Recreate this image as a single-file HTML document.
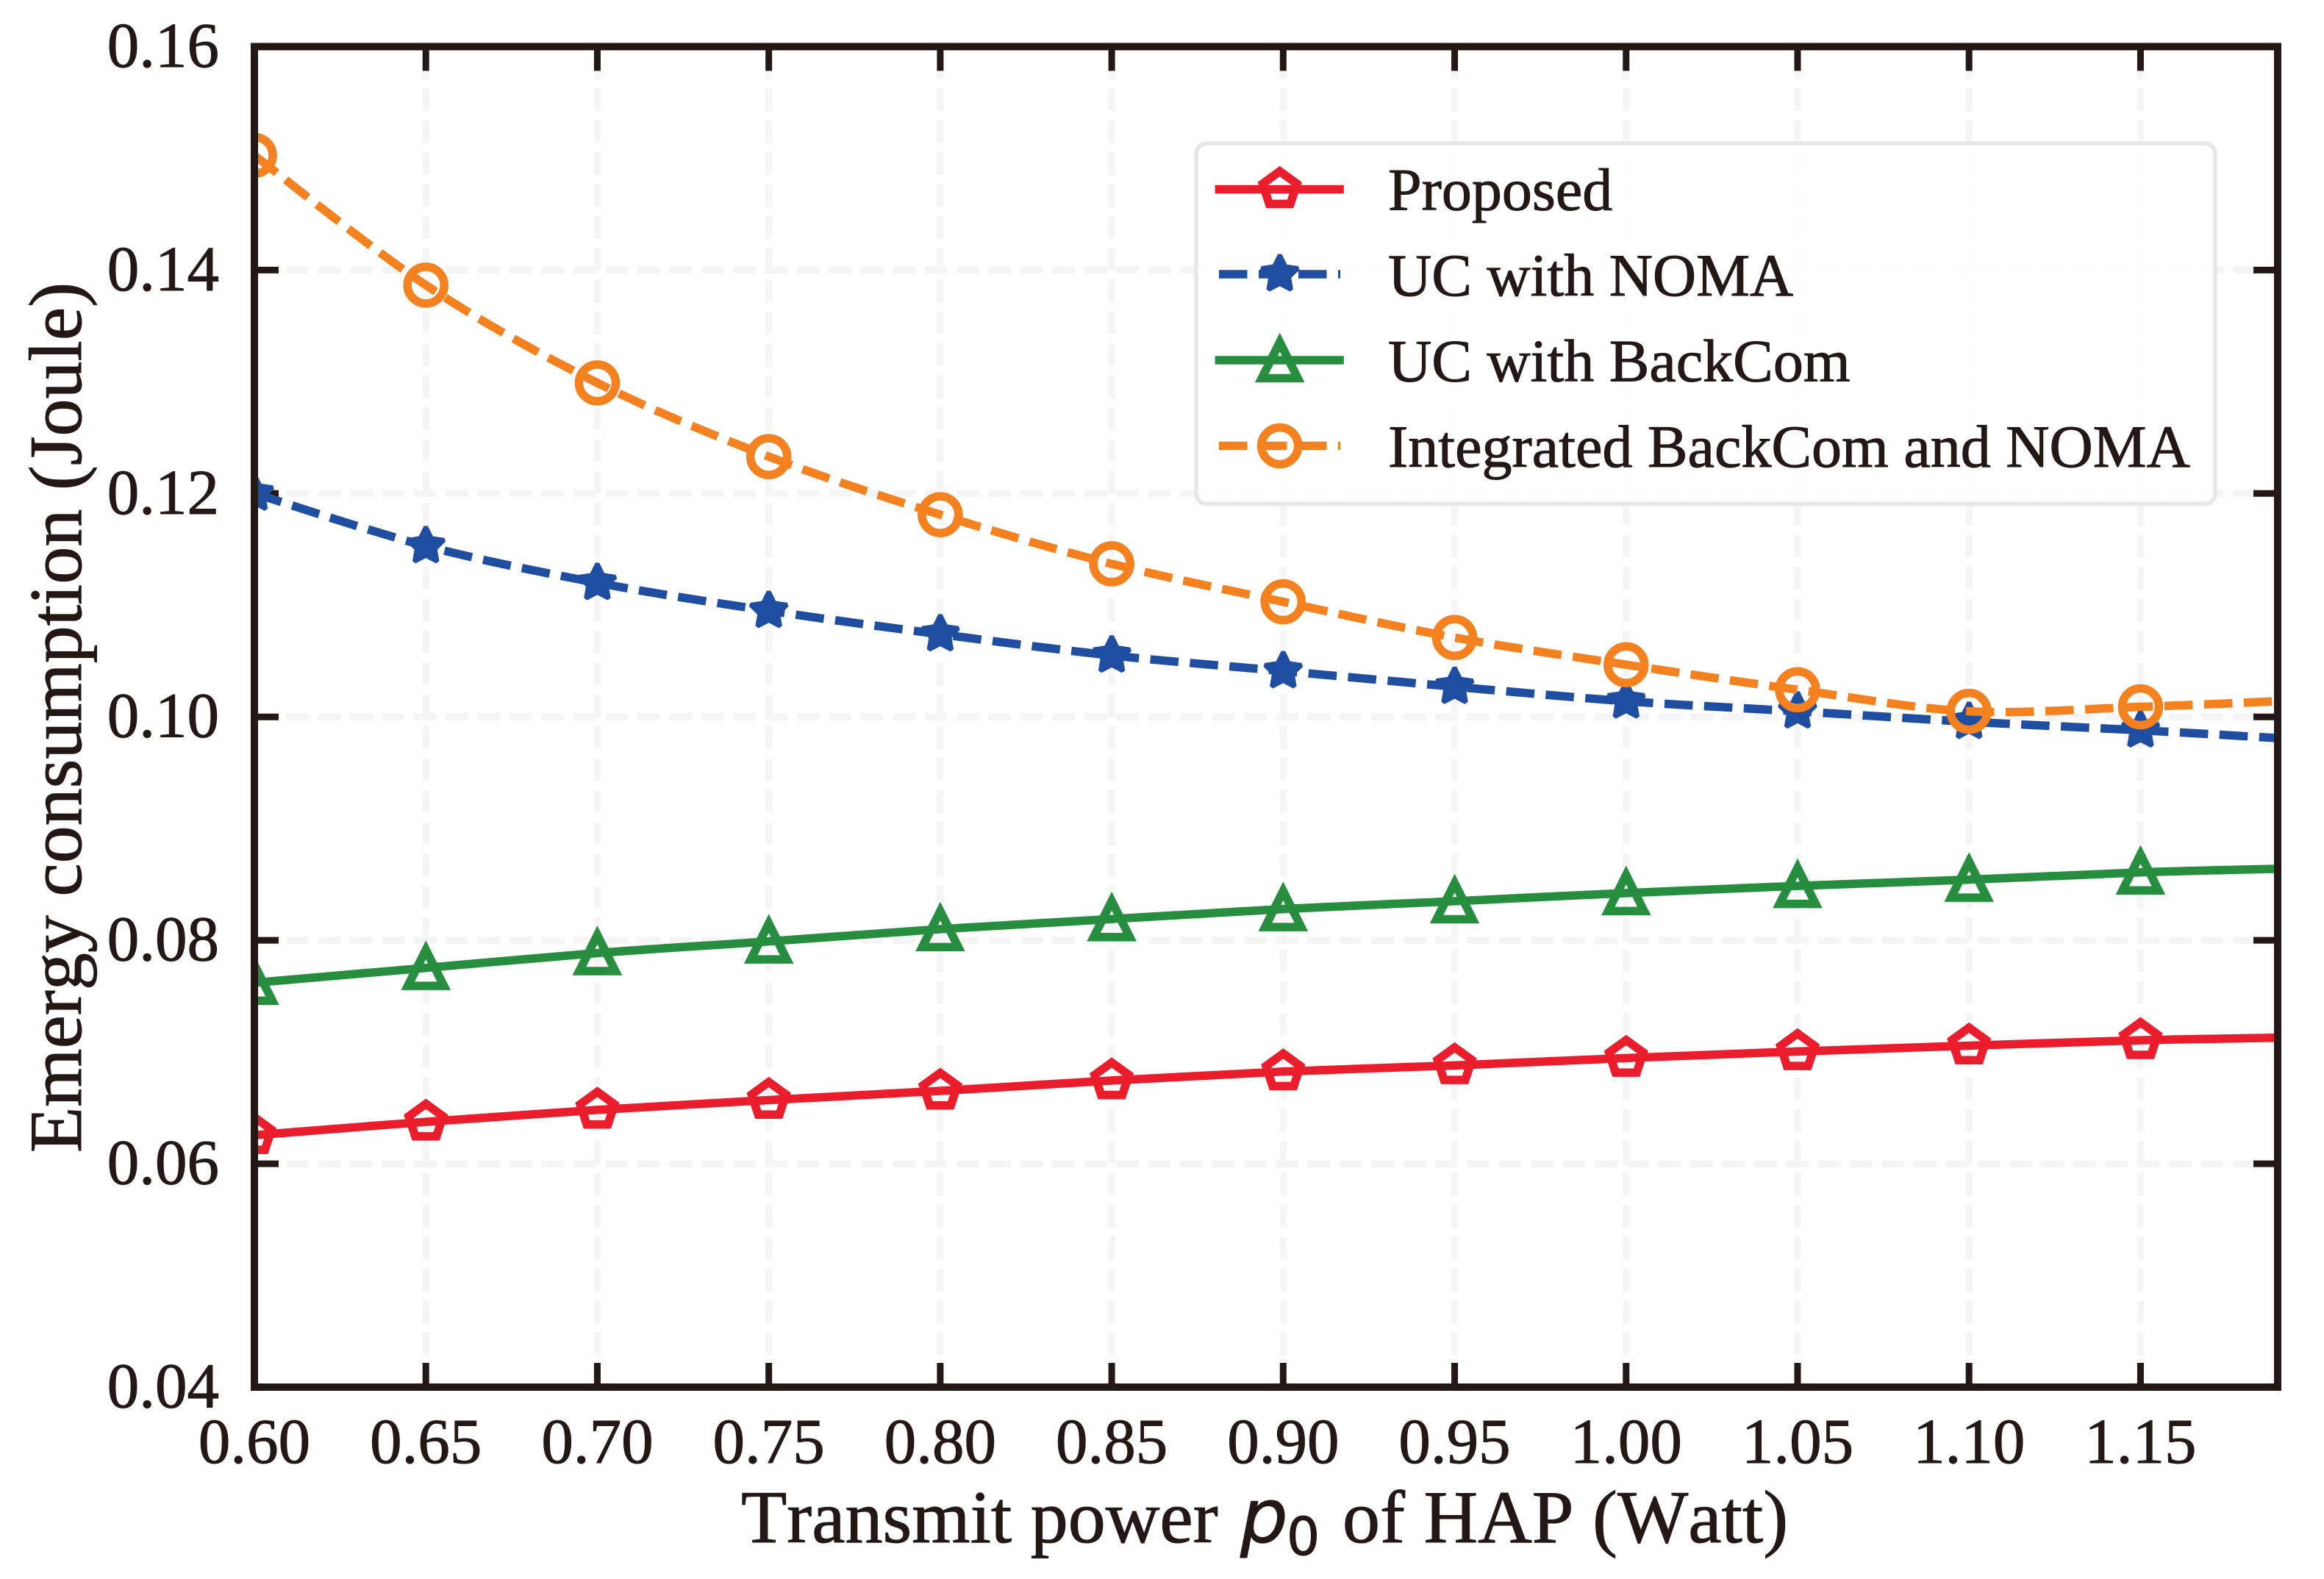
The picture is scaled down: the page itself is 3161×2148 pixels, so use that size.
<!DOCTYPE html>
<html lang="en">
<head>
<meta charset="utf-8">
<title>Energy consumption vs transmit power</title>
<style>
html,body{margin:0;padding:0;background:#fff;}
svg{display:block;}
text{font-family:"Liberation Serif","Times New Roman",serif;fill:#231815;stroke:#231815;stroke-width:1;font-kerning:none;}
</style>
</head>
<body>
<svg id="chart" xmlns="http://www.w3.org/2000/svg" width="3161" height="2148" viewBox="0 0 3161 2148">
  <defs>
    <clipPath id="plot-clip"><rect x="346" y="63.4" width="2752" height="1823.6"/></clipPath>
  </defs>
  <rect x="0" y="0" width="3161" height="2148" fill="#ffffff"/>
  <g id="grid"></g>
  <g id="ticks"></g>
  <g id="series" clip-path="url(#plot-clip)"></g>
  <g id="legend">
    <rect x="1627" y="195" width="1386" height="490.5" rx="14" ry="14" fill="#ffffff" fill-opacity="0.9" stroke="#e5e6e5" stroke-width="5.5"/>
    <text x="1888" y="285.5" font-size="82">Proposed</text>
    <text x="1888" y="402" font-size="82">UC with NOMA</text>
    <text x="1888" y="518.5" font-size="82">UC with BackCom</text>
    <text x="1888" y="635" font-size="82">Integrated BackCom and NOMA</text>
  </g>
  <rect x="346" y="63.4" width="2752" height="1823.6" fill="none" stroke="#231815" stroke-width="10"/>
  <g id="tick-labels"></g>
  <text transform="translate(110,1568) rotate(-90)" font-size="102">Emergy consumption (Joule)</text>
  <g>
    <text x="1008" y="2098" font-size="102">Transmit power</text>
    <text x="1687" y="2098" font-size="102" font-style="italic" style="font-family:'DejaVu Sans',sans-serif">p</text>
    <text x="1750" y="2115" font-size="71" style="font-family:'DejaVu Sans',sans-serif">0</text>
    <text x="1826" y="2098" font-size="102">of HAP (Watt)</text>
  </g>
</svg>
<script>
const xValues = [0.60,0.65,0.70,0.75,0.80,0.85,0.90,0.95,1.00,1.05,1.10,1.15,1.19];
const proposedValues = [0.06255,0.06375,0.06482,0.0657,0.06652,0.06745,0.06825,0.0688,0.06946,0.07005,0.07057,0.07105,0.07128];
const ucNomaValues = [0.1200,0.1153,0.1120,0.1095,0.1074,0.1055,0.1041,0.1027,0.1014,0.1005,0.09956,0.0988,0.0981];
const ucBackComValues = [0.0762,0.07753,0.07886,0.0799,0.0810,0.0819,0.0828,0.0835,0.08423,0.08487,0.08543,0.08608,0.0864];
const integratedValues = [0.15026,0.13865,0.1299,0.1233,0.1181,0.1137,0.1103,0.1071,0.10467,0.10243,0.1005,0.1009,0.1014];
const xTickValues = [0.60,0.65,0.70,0.75,0.80,0.85,0.90,0.95,1.00,1.05,1.10,1.15];
const xTickLabels = ['0.60','0.65','0.70','0.75','0.80','0.85','0.90','0.95','1.00','1.05','1.10','1.15'];
const yTickValues = [0.04,0.06,0.08,0.10,0.12,0.14,0.16];
const yTickLabels = ['0.04','0.06','0.08','0.10','0.12','0.14','0.16'];

const NS = 'http://www.w3.org/2000/svg';
const plot = {left:346, right:3098, top:63.4, bottom:1887, xMin:0.60, xMax:1.19, yMin:0.04, yMax:0.16};
function sx(v){ return plot.left + (v - plot.xMin) / (plot.xMax - plot.xMin) * (plot.right - plot.left); }
function sy(v){ return plot.bottom - (v - plot.yMin) / (plot.yMax - plot.yMin) * (plot.bottom - plot.top); }
function make(tag, attrs, parent){
  const el = document.createElementNS(NS, tag);
  for (const k in attrs) el.setAttribute(k, attrs[k]);
  parent.appendChild(el);
  return el;
}
const gridG = document.getElementById('grid');
const ticksG = document.getElementById('ticks');
const labelsG = document.getElementById('tick-labels');
const seriesG = document.getElementById('series');
const legendG = document.getElementById('legend');
const ink = '#231815';

xTickValues.forEach(function(v, i){
  const x = sx(v);
  const g = make('line', {x1:x, y1:plot.bottom, x2:x, y2:plot.top, stroke:'#f5f5f5', 'stroke-width':9.5, 'stroke-dasharray':'31 12.4'}, gridG);
  
  
  const b = make('line', {x1:x, y1:plot.bottom, x2:x, y2:plot.bottom - 33, stroke:ink, 'stroke-width':9}, ticksG);
  
  
  const t = make('line', {x1:x, y1:plot.top, x2:x, y2:plot.top + 33, stroke:ink, 'stroke-width':9}, ticksG);
  
  
  const l = make('text', {x:x, y:1990, 'font-size':87, 'text-anchor':'middle'}, labelsG);
  l.textContent = xTickLabels[i];
  
  
});
yTickValues.forEach(function(v, i){
  const y = sy(v);
  const g = make('line', {x1:plot.left, y1:y, x2:plot.right, y2:y, stroke:'#f5f5f5', 'stroke-width':9.5, 'stroke-dasharray':'31 12.4'}, gridG);
  
  
  const a = make('line', {x1:plot.left, y1:y, x2:plot.left + 33, y2:y, stroke:ink, 'stroke-width':9}, ticksG);
  
  
  const b = make('line', {x1:plot.right, y1:y, x2:plot.right - 33, y2:y, stroke:ink, 'stroke-width':9}, ticksG);
  
  
  const l = make('text', {x:298, y:y + 27.5, 'font-size':87, 'text-anchor':'end'}, labelsG);
  l.textContent = yTickLabels[i];
  
  
});

function smoothPath(pts){
  let d = 'M' + pts[0][0].toFixed(2) + ' ' + pts[0][1].toFixed(2);
  for (let i = 0; i < pts.length - 1; i++){
    const p0 = pts[Math.max(i - 1, 0)], p1 = pts[i], p2 = pts[i + 1], p3 = pts[Math.min(i + 2, pts.length - 1)];
    const c1x = p1[0] + (p2[0] - p0[0]) / 6, c1y = p1[1] + (p2[1] - p0[1]) / 6;
    const c2x = p2[0] - (p3[0] - p1[0]) / 6, c2y = p2[1] - (p3[1] - p1[1]) / 6;
    d += 'C' + c1x.toFixed(2) + ' ' + c1y.toFixed(2) + ' ' + c2x.toFixed(2) + ' ' + c2y.toFixed(2) + ' ' + p2[0].toFixed(2) + ' ' + p2[1].toFixed(2);
  }
  return d;
}
function polygonPoints(cx, cy, radii, count){
  const out = [];
  for (let i = 0; i < count; i++){
    const a = -Math.PI / 2 + i * 2 * Math.PI / count;
    const r = radii[i % radii.length];
    out.push((cx + r * Math.cos(a)).toFixed(2) + ',' + (cy + r * Math.sin(a)).toFixed(2));
  }
  return out.join(' ');
}
function drawMarker(kind, cx, cy, color, parent){
  if (kind === 'pentagon') return make('polygon', {points:polygonPoints(cx, cy, [24.5], 5), fill:'none', stroke:color, 'stroke-width':11.5, 'stroke-linejoin':'miter', 'stroke-miterlimit':10}, parent);
  if (kind === 'star') return make('polygon', {points:polygonPoints(cx, cy, [26, 13], 10), fill:color, stroke:color, 'stroke-width':6, 'stroke-linejoin':'miter', 'stroke-miterlimit':2}, parent);
  if (kind === 'triangle') return make('polygon', {points:[cx, cy - 24.5, cx - 24.5, cy + 24.5, cx + 24.5, cy + 24.5].join(' '), fill:'none', stroke:color, 'stroke-width':11.5, 'stroke-linejoin':'miter', 'stroke-miterlimit':10}, parent);
  return make('circle', {cx:cx, cy:cy, r:25, fill:'none', stroke:color, 'stroke-width':11.5}, parent);
}
const seriesDefs = [
  {key:'proposed', values:proposedValues, color:'#ea1d2c', marker:'pentagon', dash:null, legendY:257.5},
  {key:'uc-noma', values:ucNomaValues, color:'#1f4ea1', marker:'star', dash:'38.5 15.5', legendY:373},
  {key:'uc-backcom', values:ucBackComValues, color:'#268e3e', marker:'triangle', dash:null, legendY:490},
  {key:'integrated', values:integratedValues, color:'#f4811f', marker:'circle', dash:'38.5 15.5', legendY:606.5}
];
seriesDefs.forEach(function(s){
  const group = make('g', {}, seriesG);
  
  
  const pts = xValues.map(function(x, i){ return [sx(x), sy(s.values[i])]; });
  const attrs = {d:smoothPath(pts), fill:'none', stroke:s.color, 'stroke-width':11.5};
  if (s.dash) attrs['stroke-dasharray'] = s.dash;
  const line = make('path', attrs, group);
  
  
  pts.forEach(function(p, i){
    if (i >= xTickValues.length) return;
    const m = drawMarker(s.marker, p[0], p[1], s.color, group);
    
    
  });
  const la = s.dash ? {x1:1658, x2:1823} : {x1:1652.6, x2:1827.8};
  const lineAttrs = {x1:la.x1, y1:s.legendY, x2:la.x2, y2:s.legendY, stroke:s.color, 'stroke-width':11.5};
  if (s.dash) lineAttrs['stroke-dasharray'] = s.dash;
  const ll = make('line', lineAttrs, legendG);
  
  
  const lm = drawMarker(s.marker, 1740.7, s.legendY, s.color, legendG);
  
  
});
</script>
</body>
</html>
